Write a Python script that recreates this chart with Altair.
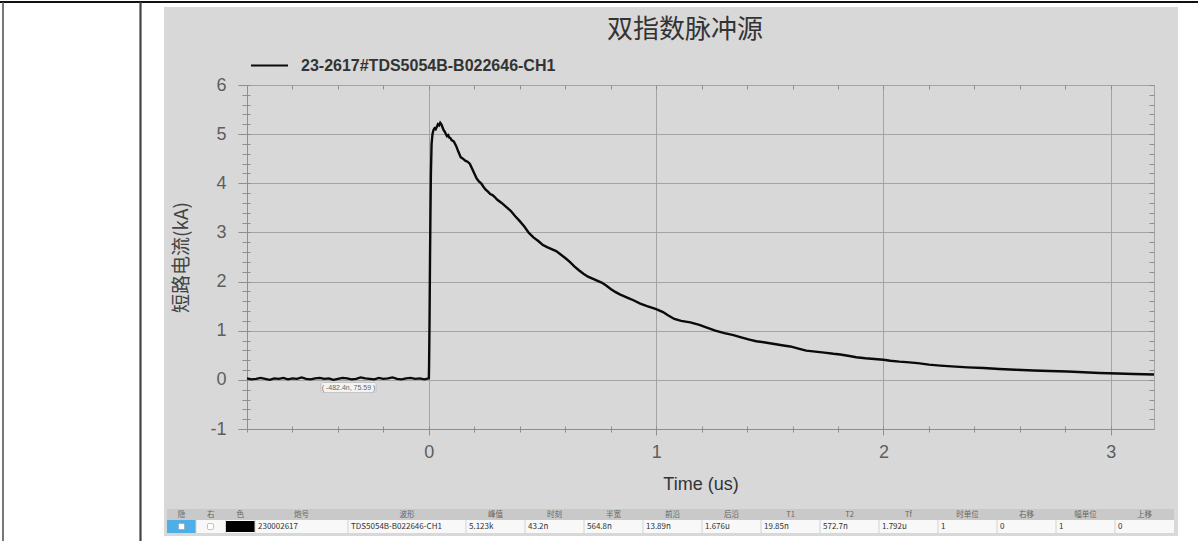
import altair as alt
import pandas as pd

# ---------------- data ----------------
series_name = "23-2617#TDS5054B-B022646-CH1"
title_text = "双指数脉冲源"
x_title = "Time (us)"
y_title = "短路电流(kA)"

time_us = [
    -0.80, -0.78, -0.76, -0.74, -0.72, -0.70, -0.68, -0.66, -0.64, -0.62,
    -0.60, -0.58, -0.56, -0.54, -0.52, -0.50, -0.48, -0.46, -0.44, -0.42,
    -0.40, -0.38, -0.36, -0.34, -0.32, -0.30, -0.28, -0.26, -0.24, -0.22,
    -0.20, -0.18, -0.16, -0.14, -0.12, -0.10, -0.08, -0.06, -0.04, -0.02,
    0.000,
    0.001, 0.003, 0.005, 0.007, 0.009, 0.012, 0.016, 0.020, 0.025, 0.030,
    0.035, 0.040, 0.045, 0.050, 0.055, 0.060, 0.065, 0.070, 0.075, 0.080,
    0.085, 0.090, 0.095, 0.100, 0.110, 0.120, 0.130, 0.140, 0.150, 0.160,
    0.170, 0.180, 0.190, 0.200, 0.210, 0.220, 0.230, 0.240, 0.250, 0.260,
    0.270, 0.280, 0.290, 0.300, 0.320, 0.340, 0.360, 0.380, 0.400, 0.420,
    0.440, 0.460, 0.480, 0.500, 0.520, 0.540, 0.560, 0.580, 0.600, 0.620,
    0.640, 0.660, 0.680, 0.700, 0.720, 0.740, 0.760, 0.780, 0.800, 0.820,
    0.840, 0.860, 0.880, 0.900, 0.930, 0.960, 1.000, 1.030, 1.050, 1.080,
    1.110, 1.150, 1.190, 1.220, 1.260, 1.300, 1.340, 1.370, 1.410, 1.440,
    1.480, 1.520, 1.560, 1.590, 1.630, 1.660, 1.700, 1.740, 1.780, 1.810,
    1.850, 1.880, 1.920, 1.960, 2.000, 2.030, 2.070, 2.100, 2.150, 2.200,
    2.250, 2.300, 2.370, 2.440, 2.510, 2.580, 2.660, 2.730, 2.810, 2.880,
    2.950, 3.030, 3.100, 3.190,
]
current_ka = [
    0.03, 0.01, 0.02, 0.04, 0.02, 0.00, 0.03, 0.02, 0.04, 0.01,
    0.03, 0.02, 0.05, 0.02, 0.01, 0.03, 0.04, 0.02, 0.03, 0.00,
    0.02, 0.04, 0.03, 0.01, 0.02, 0.05, 0.03, 0.02, 0.01, 0.04,
    0.02, 0.03, 0.05, 0.02, 0.01, 0.03, 0.04, 0.02, 0.03, 0.01,
    0.03,
    0.30, 1.20, 2.40, 3.40, 4.20, 4.80, 5.00, 5.08, 5.12, 5.10,
    5.15, 5.20, 5.18, 5.23, 5.20, 5.14, 5.08, 5.05, 5.00, 4.96,
    4.98, 4.93, 4.92, 4.88, 4.85, 4.76, 4.64, 4.53, 4.50, 4.46,
    4.44, 4.40, 4.30, 4.20, 4.10, 4.04, 4.00, 3.93, 3.87, 3.83,
    3.78, 3.76, 3.72, 3.67, 3.60, 3.52, 3.44, 3.33, 3.23, 3.12,
    2.99, 2.90, 2.83, 2.75, 2.70, 2.66, 2.62, 2.55, 2.48, 2.40,
    2.31, 2.23, 2.16, 2.10, 2.06, 2.02, 1.98, 1.92, 1.85, 1.79,
    1.74, 1.70, 1.66, 1.62, 1.55, 1.50, 1.44, 1.38, 1.32, 1.24,
    1.20, 1.17, 1.12, 1.07, 1.00, 0.95, 0.91, 0.87, 0.82, 0.785,
    0.76, 0.73, 0.70, 0.68, 0.63, 0.595, 0.575, 0.555, 0.53, 0.515,
    0.485, 0.46, 0.44, 0.425, 0.41, 0.39, 0.37, 0.36, 0.34, 0.31,
    0.29, 0.275, 0.255, 0.24, 0.22, 0.205, 0.19, 0.18, 0.17, 0.155,
    0.14, 0.13, 0.12, 0.11,
]

x_ticks = [-0.8, -0.6, -0.4, -0.2, 0, 0.2, 0.4, 0.6, 0.8, 1, 1.2, 1.4, 1.6,
           1.8, 2, 2.2, 2.4, 2.6, 2.8, 3]
y_ticks = [-1, -0.8, -0.6, -0.4, -0.2, 0, 0.2, 0.4, 0.6, 0.8, 1, 1.2, 1.4,
           1.6, 1.8, 2, 2.2, 2.4, 2.6, 2.8, 3, 3.2, 3.4, 3.6, 3.8, 4, 4.2,
           4.4, 4.6, 4.8, 5, 5.2, 5.4, 5.6, 5.8, 6]

tooltip_text = "( -482.4n, 75.59 )"

table_headers = ["隐", "右", "色", "炮号", "波形", "峰值", "时刻", "半宽", "前沿",
                 "后沿", "T1", "T2", "Tf", "时单位", "右移", "幅单位", "上移"]
table_row = ["", "", "", "230002617", "TDS5054B-B022646-CH1", "5.123k",
             "43.2n", "564.8n", "13.89n", "1.676u", "19.85n", "572.7n",
             "1.792u", "1", "0", "1", "0"]

# ---------------- layout ----------------
W, H = 1198, 541
PL, PT = 247, 85          # plot origin on the page
PW, PH = 907, 344         # plot size
BG = "#d8d8d8"
GRID = "#a4a4a4"
AXC = "#8e8e8e"
col_edges = [167, 196, 225.5, 255, 348, 466, 525, 584, 643, 702, 761, 820,
             879, 938, 997, 1056, 1115, 1174]


def px(v):
    return v - PL


def py(v):
    return v - PT


NUM_FONT = "Liberation Sans"
CJK_FONT = "Noto Sans CJK SC"

is_major = "abs(datum.value - round(datum.value)) < 0.001"
int_label = f"{is_major} ? ('' + round(datum.value)) : ''"

xscale = alt.Scale(domain=[-0.8, 3.19], nice=False, zero=False)
yscale = alt.Scale(domain=[-1, 6], nice=False, zero=False)

x_axis_main = alt.Axis(
    orient="bottom", values=x_ticks, labelExpr=int_label,
    labelOverlap=False, labelFlush=False, labelBound=False,
    grid=True, gridColor=GRID, gridWidth=1,
    gridOpacity={"condition": {"test": is_major, "value": 1}, "value": 0},
    tickSize={"condition": {"test": is_major, "value": 6}, "value": 3},
    tickColor=AXC, tickWidth=1, domainColor=AXC, domainWidth=1,
    labelFont=NUM_FONT, labelFontSize=18, labelColor="#5e5e5e", labelPadding=8,
    title=x_title, titleFont=NUM_FONT, titleFontSize=18, titleFontWeight="normal",
    titleColor="#333333", titlePadding=14,
)
y_axis_main = alt.Axis(
    orient="left", values=y_ticks, labelExpr=int_label,
    labelOverlap=False, labelFlush=False, labelBound=False,
    grid=True, gridColor=GRID, gridWidth=1,
    gridOpacity={"condition": {"test": is_major, "value": 1}, "value": 0},
    tickSize={"condition": {"test": is_major, "value": 9}, "value": 5},
    tickColor=AXC, tickWidth=1, domainColor=AXC, domainWidth=1,
    labelFont=NUM_FONT, labelFontSize=18, labelColor="#5e5e5e", labelPadding=12,
    title=y_title, titleFont=CJK_FONT, titleFontSize=19, titleFontWeight="normal",
    titleColor="#444444", titlePadding=18,
)


def tick_axis(orient, values, size, offset):
    return alt.Axis(orient=orient, values=values, labels=False, domain=False,
                    grid=False, tickSize=size, offset=offset, tickColor=AXC,
                    tickWidth=1, title=None)


wave = pd.DataFrame({"t": time_us, "i": current_ka, "s": series_name})

legend = alt.Legend(
    orient="none", legendX=3, legendY=-39, title=None, padding=0,
    symbolType="stroke", symbolSize=1369, symbolStrokeWidth=2,
    symbolStrokeColor="#111111", labelFont=NUM_FONT, labelFontSize=16,
    labelFontWeight="bold", labelColor="#333333", labelOffset=12, labelLimit=0,
)

line_layer = alt.Chart(wave).mark_line(strokeWidth=2.4).encode(
    x=alt.X("t:Q", scale=xscale, axis=x_axis_main),
    y=alt.Y("i:Q", scale=yscale, axis=y_axis_main),
    color=alt.Color("s:N", scale=alt.Scale(range=["#0a0a0a"]), legend=legend),
)

ticks_a = alt.Chart(wave).mark_line(strokeOpacity=0).encode(
    x=alt.X("t:Q", scale=xscale, axis=tick_axis("bottom", x_ticks, 3, -3)),
    y=alt.Y("i:Q", scale=yscale, axis=tick_axis("right", y_ticks, 5, -5)),
)
ticks_b = alt.Chart(wave).mark_line(strokeOpacity=0).encode(
    x=alt.X("t:Q", scale=xscale, axis=tick_axis("top", x_ticks, 4, -4)),
    y=alt.Y("i:Q", scale=yscale, axis=tick_axis("left", y_ticks, 3, -3)),
)

# ---------------- page decoration ----------------
def pix_rect(df, **kw):
    return alt.Chart(df).mark_rect(**kw).encode(
        x=alt.X("x:Q", scale=None, axis=None), x2="x2:Q",
        y=alt.Y("y:Q", scale=None, axis=None), y2="y2:Q",
        color=alt.Color("c:N", scale=None),
    )


white = pd.DataFrame({
    "x": [px(0), px(1178), px(164), px(164)],
    "x2": [px(164), px(1198), px(1178), px(1178)],
    "y": [py(0), py(0), py(0), py(536)],
    "y2": [py(541), py(541), py(7), py(541)],
    "c": ["#ffffff"] * 4,
})
white_layer = pix_rect(white)

borders = pd.DataFrame({
    "x": [px(0), px(3), px(140.5)],
    "x2": [px(1198), px(3), px(140.5)],
    "y": [py(2), py(2), py(2)],
    "y2": [py(2), py(541), py(541)],
    "w": [2.2, 1.6, 2.2],
    "c": ["#111111", "#555555", "#444444"],
})
border_layer = alt.Chart(borders).mark_rule().encode(
    x=alt.X("x:Q", scale=None, axis=None), x2="x2:Q",
    y=alt.Y("y:Q", scale=None, axis=None), y2="y2:Q",
    strokeWidth=alt.StrokeWidth("w:Q", scale=None),
    color=alt.Color("c:N", scale=None),
)

title_layer = alt.Chart(pd.DataFrame({"t": [title_text]})).mark_text(
    font=CJK_FONT, fontSize=26, color="#333333", align="center", baseline="middle"
).encode(text="t:N", x=alt.value(px(685)), y=alt.value(py(30)))

# tooltip box near the baseline
tip_box = pd.DataFrame({"x": [px(321)], "x2": [px(376)], "y": [py(382.5)],
                        "y2": [py(392.5)], "c": ["#f3f3f3"]})
tip_rect = pix_rect(tip_box, stroke="#bdbdbd", strokeWidth=0.8, cornerRadius=1.5)
tip_text = alt.Chart(pd.DataFrame({"t": [tooltip_text]})).mark_text(
    font=NUM_FONT, fontSize=7, color="#666666", align="center", baseline="middle"
).encode(text="t:N", x=alt.value(px(348.5)), y=alt.value(py(387.5)))

# ---------------- bottom table ----------------
hdr_y0, hdr_y1, row_y0, row_y1 = 509, 520, 520, 533
rects = pd.DataFrame({
    "x": [px(167), px(167), px(167), px(226)],
    "x2": [px(1174), px(1174), px(196), px(255)],
    "y": [py(hdr_y0), py(row_y0), py(row_y0), py(521)],
    "y2": [py(hdr_y1), py(row_y1), py(row_y1), py(532)],
    "c": ["#c9c9c9", "#f8f8f8", "#4eaee8", "#000000"],
})
table_bg = pix_rect(rects)

checks = pd.DataFrame({
    "x": [px(178.5), px(207.5)], "x2": [px(184.5), px(213.5)],
    "y": [py(523.5), py(523.5)], "y2": [py(529.5), py(529.5)],
    "c": ["#ffffff", "#ffffff"],
})
check_layer = pix_rect(checks, stroke="#9a9a9a", strokeWidth=0.6, cornerRadius=1)

seps = pd.DataFrame({"x": [px(e) for e in col_edges[1:-1]]})
sep_layer = alt.Chart(seps).mark_rule(color="#d2d2d2", strokeWidth=1).encode(
    x=alt.X("x:Q", scale=None, axis=None),
    y=alt.value(py(row_y0)), y2=alt.value(py(row_y1)),
)

centers = [(col_edges[k] + col_edges[k + 1]) / 2 for k in range(len(table_headers))]
hdr_df = pd.DataFrame({"x": [px(c) for c in centers], "t": table_headers})
hdr_layer = alt.Chart(hdr_df).mark_text(
    font=CJK_FONT, fontSize=7.5, color="#666666", align="center", baseline="middle"
).encode(x=alt.X("x:Q", scale=None, axis=None), y=alt.value(py(514.5)), text="t:N")

row_df = pd.DataFrame({"x": [px(col_edges[k] + 3) for k in range(len(table_row))],
                       "t": table_row})
row_layer = alt.Chart(row_df).mark_text(
    font=CJK_FONT, fontSize=8, color="#333333", align="left", baseline="middle"
).encode(x=alt.X("x:Q", scale=None, axis=None), y=alt.value(py(526.5)), text="t:N")

chart = alt.layer(
    white_layer, border_layer, ticks_a, ticks_b, line_layer, title_layer,
    tip_rect, tip_text, table_bg, check_layer, sep_layer, hdr_layer, row_layer,
).resolve_axis(x="independent", y="independent").properties(
    width=PW, height=PH,
    autosize=alt.AutoSizeParams(type="none"),
    padding={"left": PL, "top": PT, "right": W - PL - PW, "bottom": H - PT - PH},
    background=BG,
).configure_view(stroke=GRID, strokeWidth=1)

chart.save("out.html", embed_options={"renderer": "svg", "actions": False})
